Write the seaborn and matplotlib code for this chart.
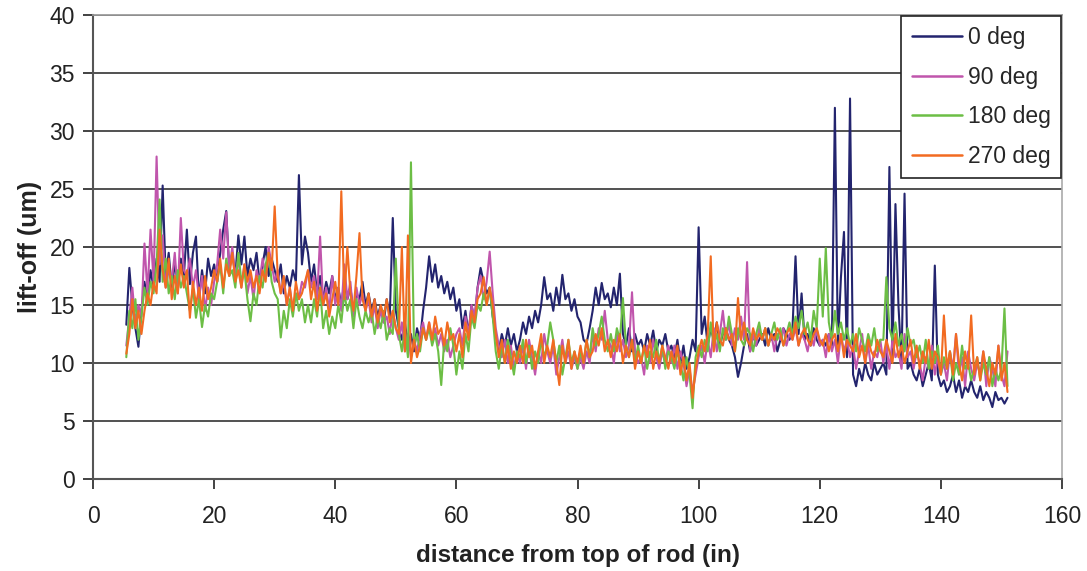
import numpy as np
import pandas as pd
import matplotlib
matplotlib.use("Agg")
import matplotlib.pyplot as plt
import seaborn as sns

# sampled every 0.5 in, starting at 5.5 in
x_start = 5.5
x_step = 0.5

deg0 = [
    13.3, 18.2, 15.0, 13.0, 11.4, 14.5, 17.0, 15.5, 18.0, 16.5,
    19.0, 17.0, 25.3, 17.5, 19.5, 16.5, 18.5, 17.0, 19.0, 17.5,
    21.5, 16.8, 19.5, 20.9, 15.5, 18.0, 16.0, 19.0, 17.5, 18.5,
    17.0, 19.5, 21.5, 23.1, 18.0, 19.5, 17.5, 21.0, 18.5, 20.9,
    17.5, 19.0, 18.0, 19.5, 17.0, 18.5, 20.0, 17.5, 19.0, 18.0,
    17.0, 18.5, 16.0, 17.5, 16.5, 18.0, 17.0, 26.2, 18.5, 20.9,
    19.5, 17.0, 18.5, 16.0, 17.5, 15.5, 17.0, 16.0, 17.5, 15.5,
    16.5, 15.0, 17.0, 15.5, 16.5, 14.5, 16.0, 15.5, 17.0, 15.0,
    16.0, 14.5, 15.5, 14.0, 15.0, 13.5, 15.5, 14.0, 22.5, 14.5,
    13.0, 12.0, 13.5, 11.5, 12.5, 11.0, 13.0, 12.0, 14.5, 16.5,
    19.2, 17.0, 18.5, 16.5, 17.5, 16.0, 17.0, 15.5, 16.5, 14.5,
    15.5, 13.0, 14.5, 12.5, 15.0, 13.5, 16.5, 18.2, 17.0, 16.0,
    16.5, 14.0, 12.5, 11.0, 12.5, 11.5, 13.0, 11.5, 12.5, 11.0,
    12.0, 13.5, 12.5, 14.0, 13.0, 14.5, 13.5, 15.0, 17.4, 15.5,
    16.0, 14.5, 16.5, 15.0, 17.6, 15.5, 16.0, 14.5, 15.5, 14.0,
    13.5, 12.0, 11.7, 13.0, 14.5, 16.5, 15.0, 16.9, 15.5, 16.0,
    14.8, 16.5, 15.0, 17.7, 12.5, 11.5, 13.0, 11.0, 12.5, 11.5,
    12.0, 11.0, 12.5, 11.5, 12.8, 11.0, 12.0, 11.5, 12.5, 11.0,
    11.5, 10.5, 12.0, 10.0, 11.5, 9.5, 10.5, 12.0, 11.0, 21.7,
    12.5, 14.0, 11.5, 13.0, 12.0, 13.5, 11.5, 12.5, 13.0, 12.0,
    11.5, 10.5, 8.8, 10.0, 11.5, 12.5, 11.0, 12.5, 11.5, 12.0,
    12.5, 11.5, 13.0, 12.0, 12.5, 11.0, 12.0, 13.0, 12.5, 12.0,
    13.0, 19.2, 12.5, 16.0, 12.0, 12.5, 11.5, 13.0, 12.0, 11.5,
    12.0, 11.5, 12.5, 11.5, 32.0, 11.5, 17.4, 21.3, 10.5, 32.8,
    9.0, 8.0, 9.5, 8.5, 10.0, 9.0, 8.5, 10.0, 9.0, 9.5,
    10.0, 9.0, 26.9, 10.5, 23.7, 14.9, 10.0, 24.6, 9.5, 10.0,
    9.0, 8.5, 9.5, 8.0, 9.0, 10.0, 8.5, 18.4, 9.0, 8.0,
    8.5, 7.5, 8.0, 9.0, 7.5, 8.5, 7.0, 8.0, 7.5, 8.5,
    7.5, 7.0, 8.0, 6.8, 7.5, 7.0, 6.2, 7.5, 6.8, 7.0,
    6.5, 7.0,
]

deg90 = [
    11.5, 14.0, 16.5, 13.5, 15.0, 14.0, 20.3, 16.0, 21.5, 17.0,
    27.8, 18.5, 21.0, 16.5, 18.0, 17.0, 19.5, 16.0, 22.5, 18.0,
    17.5, 19.0, 16.5, 18.0, 15.5, 17.5, 14.5, 16.5, 15.0, 17.0,
    18.5, 21.5, 19.0, 23.0, 18.0, 20.0, 17.5, 19.0, 16.5, 18.5,
    16.0, 17.5, 15.5, 18.0, 17.0, 19.0, 17.5, 20.0, 18.5, 17.0,
    18.0, 16.0, 17.0, 15.0, 16.5, 14.5, 16.0, 15.5, 17.0, 16.5,
    18.0, 16.5, 17.5, 15.5, 20.9, 15.0, 16.5, 14.5, 17.5, 15.0,
    16.5, 14.5, 18.5, 15.5, 17.0, 14.0, 16.5, 15.0, 16.0, 14.5,
    15.5, 13.5, 15.0, 13.0, 14.5, 13.5, 14.0, 12.5, 14.5, 13.0,
    12.0, 13.5, 11.0, 12.5, 10.5, 12.0, 11.0, 12.5, 13.5, 12.0,
    13.5, 12.0, 13.0, 11.5, 12.5, 11.0, 12.0, 10.5, 11.5, 12.5,
    13.0, 11.5, 14.0, 12.5, 15.0, 14.0, 16.5, 17.5, 15.5, 17.0,
    19.6, 16.0, 13.0, 11.5, 10.5, 12.0, 10.0, 11.5, 9.5, 11.0,
    10.0, 11.5, 9.5, 12.0, 10.5, 9.0, 11.0, 10.0, 12.5, 11.0,
    10.0, 11.5, 9.0, 10.5, 12.0, 10.0, 11.0, 9.5, 10.5, 9.5,
    10.5, 9.5, 11.0, 10.0, 12.5, 11.0, 13.0, 12.0, 14.5, 12.0,
    11.5, 10.0, 12.5, 11.0, 12.0, 10.5, 11.5, 16.1, 11.0, 10.0,
    10.5, 9.0, 11.5, 10.0, 12.0, 10.5, 9.5, 11.0, 10.0, 11.5,
    10.0, 11.5, 9.5, 11.0, 10.0, 8.0, 9.5, 7.5, 9.0, 10.5,
    11.5, 10.0, 12.0, 10.5, 13.0, 11.0, 12.5, 14.5, 12.0, 13.5,
    11.5, 13.0, 12.0, 14.0, 12.0, 18.7, 11.0, 12.5, 11.5, 13.0,
    12.0, 13.0, 11.5, 12.5, 11.0, 12.5, 12.0, 13.0, 11.5, 12.5,
    12.0, 13.0, 11.5, 12.5, 12.0, 11.0, 12.5, 11.5, 13.0, 11.5,
    12.0, 10.5, 12.5, 11.0, 12.0, 10.0, 12.5, 11.0, 12.0, 10.5,
    11.5, 9.5, 11.0, 12.5, 10.0, 11.5, 9.5, 11.0, 10.5, 12.0,
    10.0, 11.5, 9.5, 12.0, 10.5, 11.0, 9.5, 12.5, 10.5, 11.0,
    9.5, 11.0, 10.0, 8.5, 10.5, 9.5, 11.5, 9.0, 10.5, 9.0,
    10.0, 8.5, 11.0, 9.5, 12.5, 9.0, 10.5, 8.0, 11.0, 9.5,
    8.5, 10.0, 9.0, 11.0, 8.0, 10.5, 9.5, 8.0, 11.5, 9.0,
    8.0, 11.0,
]

deg180 = [
    10.5, 14.5, 13.0, 15.5, 12.0, 14.0, 16.5, 15.0, 17.0, 16.0,
    18.5, 24.1, 17.0, 19.0, 16.0, 17.5, 15.5, 18.0, 16.5, 17.5,
    16.0, 14.5, 16.5, 13.9, 15.5, 13.1, 15.0, 14.0, 16.0, 15.5,
    17.0, 18.5, 16.0, 19.0, 17.5, 18.0, 16.5, 19.5, 17.0, 18.0,
    15.5, 13.6, 16.0, 15.0, 17.5, 16.5, 18.5, 19.5, 17.0, 16.0,
    15.5, 12.2, 14.5, 13.0, 15.5, 14.0, 16.0, 14.5, 15.5, 13.5,
    15.0, 13.5, 15.5, 14.0, 16.5, 13.0, 14.5, 12.5, 14.0, 13.0,
    15.0, 13.5, 16.0, 14.5, 15.5, 13.0, 15.5, 14.0, 13.0, 14.5,
    13.5, 14.5, 12.5, 14.0, 13.0, 14.5, 12.0, 13.0, 12.5, 19.0,
    12.5, 11.0, 13.0, 10.5, 27.3, 11.5, 12.5, 11.0, 13.0, 12.0,
    13.0, 11.5, 12.5, 11.0, 8.1, 12.0, 11.0, 13.0, 11.5, 9.0,
    11.0, 9.5, 12.5, 11.0, 14.0, 13.0, 15.0, 14.5, 16.0, 15.0,
    16.5, 14.0, 11.0, 9.5, 11.5, 10.0, 12.0, 10.5, 9.0, 11.0,
    10.5, 12.0, 10.0, 11.5, 9.5, 11.0, 10.0, 12.0, 10.5, 11.5,
    13.5, 12.0, 10.0, 11.5, 9.0, 10.5, 12.0, 10.0, 11.0, 9.5,
    11.0, 10.0, 12.0, 10.5, 13.0, 11.5, 12.5, 14.0, 12.0, 11.0,
    12.5, 11.0, 13.0, 12.0, 15.6, 11.5, 10.5, 12.0, 10.0, 11.5,
    10.0, 11.5, 9.5, 11.0, 10.5, 12.0, 10.0, 11.5, 9.5, 11.0,
    10.5, 9.5, 11.0, 10.0, 8.5, 10.5, 9.0, 6.1, 10.5, 11.5,
    10.5, 12.0, 11.0, 13.5, 11.5, 12.5, 11.0, 13.0, 12.0, 14.0,
    12.5, 11.0, 13.0, 12.0, 11.5, 13.0, 12.5, 11.0, 12.5, 13.5,
    12.0, 13.0, 11.5, 12.5, 13.5, 12.0, 13.0, 11.5, 12.5, 13.5,
    12.5, 14.0, 13.0, 14.5, 12.5, 13.5, 12.0, 14.5, 13.0, 19.0,
    14.0, 19.9, 13.5, 12.0, 14.5, 12.5, 13.5, 12.0, 13.0, 11.5,
    12.5, 11.0, 13.0, 12.0, 11.0, 12.5, 11.5, 13.0, 11.0, 12.0,
    12.0, 17.4, 13.0, 12.0, 13.5, 11.5, 12.5, 11.0, 13.0, 11.5,
    12.0, 10.5, 11.5, 10.0, 12.0, 9.5, 11.0, 10.0, 11.5, 9.0,
    10.5, 9.5, 11.0, 8.5, 10.0, 9.0, 11.5, 9.5, 10.0, 8.5,
    9.5, 10.5, 8.5, 10.0, 9.0, 10.5, 8.0, 9.5, 8.5, 9.5,
    14.7, 8.0,
]

deg270 = [
    10.8, 12.5, 15.5, 13.0, 14.5, 12.5, 14.5, 16.0, 15.0, 17.0,
    16.0, 21.5, 18.0, 16.5, 19.0, 15.5, 17.5, 16.0, 18.5, 16.5,
    18.0, 13.9, 17.0, 15.0, 16.5, 14.5, 17.5, 15.5, 16.5, 18.0,
    17.0, 19.0, 16.5, 18.5, 17.5, 19.5, 17.0, 18.0, 16.5, 18.5,
    17.0, 18.0, 16.5, 17.5, 16.0, 18.0, 17.0, 19.5, 18.0, 23.5,
    17.5, 16.0, 17.5, 15.0, 16.5, 14.5, 17.0, 15.5, 16.0, 17.0,
    18.0, 15.5, 17.0, 14.5, 16.5, 15.0, 16.0, 14.0, 15.5, 17.0,
    15.0, 24.8, 15.5, 20.0, 16.0, 14.5, 17.5, 21.2, 15.5, 14.5,
    16.0, 14.0, 15.5, 13.5, 15.0, 14.0, 15.5, 13.5, 14.5, 13.0,
    12.5, 20.0, 11.0, 21.0, 10.0, 12.0, 10.5, 11.5, 13.0, 12.0,
    13.5, 12.0, 14.0, 12.5, 13.0, 11.5, 13.5, 12.0, 12.5, 11.0,
    12.5, 10.5, 13.5, 12.0, 14.5, 13.5, 15.5, 16.0, 17.4, 15.0,
    16.5, 15.0, 12.5, 10.5, 12.0, 10.0, 11.5, 9.5, 11.0, 10.0,
    11.5, 10.0, 12.0, 10.5, 11.5, 9.5, 11.0, 12.5, 10.0, 11.5,
    10.5, 12.0, 10.0, 8.1, 11.5, 10.0, 12.0, 9.5, 11.0, 10.0,
    11.5, 10.0, 12.0, 10.5, 11.0, 12.5, 11.5, 13.0, 11.0, 12.0,
    10.5, 12.0, 11.0, 12.5, 10.0, 11.5, 10.5, 12.0, 9.5, 11.0,
    10.0, 11.5, 10.5, 12.0, 9.5, 11.0, 10.0, 11.5, 10.5, 9.5,
    11.0, 10.0, 11.5, 9.0, 10.5, 8.5, 10.0, 7.0, 9.5, 11.0,
    12.0, 11.0, 12.5, 19.2, 11.0, 13.5, 12.0, 11.5, 13.0, 12.0,
    12.5, 11.0, 15.6, 12.0, 13.5, 12.0, 11.5, 13.0, 12.0, 12.5,
    12.0, 13.0, 11.5, 12.5, 12.0, 13.0, 12.5, 11.5, 12.5, 13.0,
    12.0, 13.5, 11.5, 12.5, 13.0, 12.0, 11.5, 12.5, 13.0, 12.0,
    11.5, 12.5, 11.0, 12.0, 12.5, 11.0, 12.5, 10.5, 12.0, 11.5,
    11.0, 12.5, 10.5, 11.5, 10.0, 12.0, 11.0, 10.5, 12.0, 11.0,
    10.5, 12.0, 11.0, 10.0, 12.5, 10.5, 11.5, 10.0, 11.0, 12.0,
    10.0, 11.5, 9.5, 11.0, 10.0, 12.0, 9.5, 11.0, 10.5, 9.0,
    14.1, 9.5, 11.0, 9.0, 12.5, 10.0, 8.5, 11.0, 9.5, 14.1,
    9.0, 10.5, 8.5, 11.0, 9.5, 8.0, 10.0, 9.0, 11.5, 8.5,
    10.0, 7.5,
]

series_names = ["0 deg", "90 deg", "180 deg", "270 deg"]
series_values = [deg0, deg90, deg180, deg270]
colors = ["#23246e", "#c055ac", "#6cbe45", "#f26b21"]

x_ticks = [0, 20, 40, 60, 80, 100, 120, 140, 160]
y_ticks = [0, 5, 10, 15, 20, 25, 30, 35, 40]

frames = []
for name, vals in zip(series_names, series_values):
    n = len(vals)
    frames.append(pd.DataFrame({
        "distance": x_start + x_step * np.arange(n),
        "liftoff": vals,
        "angle": name,
    }))
df = pd.concat(frames, ignore_index=True)

sns.set_theme(style="white")
plt.rcParams["font.family"] = ["Liberation Sans", "DejaVu Sans"]

fig = plt.figure(figsize=(10.87, 5.71), dpi=100)
ax = fig.add_axes([93 / 1087, 1 - 479 / 571, (1062 - 93) / 1087, (479 - 15) / 571])

sns.lineplot(data=df, x="distance", y="liftoff", hue="angle",
             hue_order=series_names, palette=colors, linewidth=1.5,
             estimator=None, sort=False, ax=ax)

ax.set_xlim(0, 160)
ax.set_ylim(0, 40)
ax.set_xticks(x_ticks)
ax.set_yticks(y_ticks)
ax.tick_params(axis="both", labelsize=16.5, colors="#222222", length=7,
               width=1.2, direction="out", left=True, bottom=True, pad=6)
ax.tick_params(axis="x", pad=12)
for t in y_ticks[1:]:
    ax.axhline(t, color="#222222", linewidth=1.1, zorder=0)
ax.spines["left"].set_color("#555555")
ax.spines["left"].set_linewidth(1.5)
ax.spines["bottom"].set_color("#555555")
ax.spines["bottom"].set_linewidth(1.5)
ax.spines["top"].set_color("#999999")
ax.spines["right"].set_color("#aaaaaa")
ax.spines["right"].set_linewidth(1.2)

ax.set_xlabel("distance from top of rod (in)", fontsize=17.5, fontweight="bold",
              color="#222222", labelpad=11)
ax.set_ylabel("lift-off (um)", fontsize=18, fontweight="bold",
              color="#222222", labelpad=5)

leg = ax.legend(loc="upper right", fontsize=16.5, frameon=True, fancybox=False,
                edgecolor="#222222", framealpha=1, handlelength=2.2,
                borderpad=0.45, labelspacing=0.72, handletextpad=0.25,
                borderaxespad=0.05)
leg.get_frame().set_linewidth(1.2)
for line in leg.get_lines():
    line.set_linewidth(1.8)

fig.savefig("out.png", dpi=100)
